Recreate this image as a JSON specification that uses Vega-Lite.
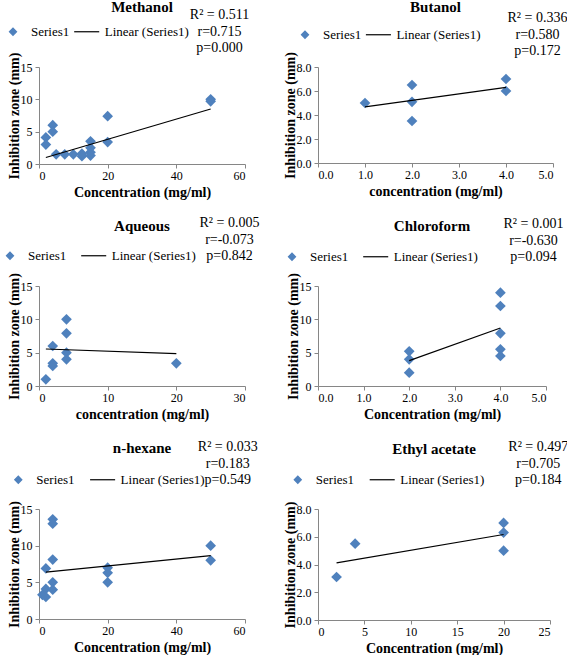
{
  "$schema": "https://vega.github.io/schema/vega-lite/v6.json",
  "background": "white",
  "padding": {"left": 3, "top": 0, "right": 0, "bottom": 0},
  "datasets": {
    "points": [
      {"solvent": "Methanol", "conc": 2, "zone": 4.1},
      {"solvent": "Methanol", "conc": 2, "zone": 3.0},
      {"solvent": "Methanol", "conc": 4, "zone": 6.0},
      {"solvent": "Methanol", "conc": 4, "zone": 5.0},
      {"solvent": "Methanol", "conc": 5, "zone": 1.5},
      {"solvent": "Methanol", "conc": 7.5, "zone": 1.5},
      {"solvent": "Methanol", "conc": 10, "zone": 1.5},
      {"solvent": "Methanol", "conc": 12.5, "zone": 1.2},
      {"solvent": "Methanol", "conc": 12.5, "zone": 1.6},
      {"solvent": "Methanol", "conc": 15, "zone": 3.5},
      {"solvent": "Methanol", "conc": 15, "zone": 2.5},
      {"solvent": "Methanol", "conc": 15, "zone": 1.8},
      {"solvent": "Methanol", "conc": 15, "zone": 1.3},
      {"solvent": "Methanol", "conc": 20, "zone": 7.4},
      {"solvent": "Methanol", "conc": 20, "zone": 3.4},
      {"solvent": "Methanol", "conc": 50, "zone": 10.0},
      {"solvent": "Methanol", "conc": 50, "zone": 9.7},
      {"solvent": "Butanol", "conc": 1, "zone": 5.0},
      {"solvent": "Butanol", "conc": 2, "zone": 6.5},
      {"solvent": "Butanol", "conc": 2, "zone": 5.1},
      {"solvent": "Butanol", "conc": 2, "zone": 3.5},
      {"solvent": "Butanol", "conc": 4, "zone": 7.0},
      {"solvent": "Butanol", "conc": 4, "zone": 6.0},
      {"solvent": "Aqueous", "conc": 1, "zone": 1.0},
      {"solvent": "Aqueous", "conc": 2, "zone": 6.0},
      {"solvent": "Aqueous", "conc": 2, "zone": 3.4},
      {"solvent": "Aqueous", "conc": 2, "zone": 3.0},
      {"solvent": "Aqueous", "conc": 4, "zone": 10.0},
      {"solvent": "Aqueous", "conc": 4, "zone": 7.9},
      {"solvent": "Aqueous", "conc": 4, "zone": 5.0},
      {"solvent": "Aqueous", "conc": 4, "zone": 4.0},
      {"solvent": "Aqueous", "conc": 20, "zone": 3.4},
      {"solvent": "Chloroform", "conc": 2, "zone": 5.2},
      {"solvent": "Chloroform", "conc": 2, "zone": 4.0},
      {"solvent": "Chloroform", "conc": 2, "zone": 2.0},
      {"solvent": "Chloroform", "conc": 4, "zone": 14.0},
      {"solvent": "Chloroform", "conc": 4, "zone": 12.0},
      {"solvent": "Chloroform", "conc": 4, "zone": 7.9},
      {"solvent": "Chloroform", "conc": 4, "zone": 5.5},
      {"solvent": "Chloroform", "conc": 4, "zone": 4.5},
      {"solvent": "n-hexane", "conc": 1, "zone": 3.3},
      {"solvent": "n-hexane", "conc": 2, "zone": 6.9},
      {"solvent": "n-hexane", "conc": 2, "zone": 4.1},
      {"solvent": "n-hexane", "conc": 2, "zone": 3.0},
      {"solvent": "n-hexane", "conc": 4, "zone": 13.6},
      {"solvent": "n-hexane", "conc": 4, "zone": 13.0},
      {"solvent": "n-hexane", "conc": 4, "zone": 8.1},
      {"solvent": "n-hexane", "conc": 4, "zone": 5.0},
      {"solvent": "n-hexane", "conc": 4, "zone": 4.0},
      {"solvent": "n-hexane", "conc": 20, "zone": 7.0},
      {"solvent": "n-hexane", "conc": 20, "zone": 6.3},
      {"solvent": "n-hexane", "conc": 20, "zone": 5.0},
      {"solvent": "n-hexane", "conc": 50, "zone": 10.0},
      {"solvent": "n-hexane", "conc": 50, "zone": 8.0},
      {"solvent": "Ethyl acetate", "conc": 2, "zone": 3.1},
      {"solvent": "Ethyl acetate", "conc": 4, "zone": 5.5},
      {"solvent": "Ethyl acetate", "conc": 20, "zone": 7.0},
      {"solvent": "Ethyl acetate", "conc": 20, "zone": 6.3},
      {"solvent": "Ethyl acetate", "conc": 20, "zone": 5.0}
    ],
    "fits": [
      {"solvent": "Methanol", "conc": 2, "zone": 1.0},
      {"solvent": "Methanol", "conc": 50, "zone": 8.5},
      {"solvent": "Butanol", "conc": 1, "zone": 4.68},
      {"solvent": "Butanol", "conc": 4, "zone": 6.3},
      {"solvent": "Aqueous", "conc": 1, "zone": 5.55},
      {"solvent": "Aqueous", "conc": 20, "zone": 4.85},
      {"solvent": "Chloroform", "conc": 2, "zone": 3.8},
      {"solvent": "Chloroform", "conc": 4, "zone": 8.7},
      {"solvent": "n-hexane", "conc": 2, "zone": 6.4},
      {"solvent": "n-hexane", "conc": 50, "zone": 8.65},
      {"solvent": "Ethyl acetate", "conc": 2, "zone": 4.12},
      {"solvent": "Ethyl acetate", "conc": 20, "zone": 6.16}
    ]
  },
  "columns": 2,
  "spacing": {"row": 20, "column": 22},
  "concat": [
    {
      "width": 206, "height": 97,
      "title": {"text": "Methanol", "dy": -6},
      "layer": [
        {
          "data": {"name": "points"},
          "transform": [{"filter": "datum.solvent === 'Methanol'"}],
          "mark": {"type": "point", "filled": true, "opacity": 1, "size": 115},
          "encoding": {
            "x": {"field": "conc", "type": "quantitative", "title": "Concentration (mg/ml)",
              "scale": {"domain": [0, 60], "nice": false}, "axis": {"values": [0, 20, 40, 60], "tickCount": 20}},
            "y": {"field": "zone", "type": "quantitative", "title": "Inhibition zone (mm)",
              "scale": {"domain": [0, 15], "nice": false}, "axis": {"values": [0, 5, 10, 15], "tickCount": 20}},
            "color": {"datum": "Series1", "type": "nominal",
              "scale": {"domain": ["Series1", "Linear (Series1)"], "range": ["#4F81BD", "#000000"]},
              "legend": {"legendX": -32.5, "legendY": -42, "columnPadding": 1.7, "titlePadding": 31,
                "title": ["R² = 0.511", "r=0.715", "p=0.000"]}},
            "shape": {"datum": "Series1", "type": "nominal",
              "scale": {"domain": ["Series1", "Linear (Series1)"], "range": ["diamond", "M-3.54,0H3.54"]}}
          }
        },
        {
          "data": {"name": "fits"},
          "transform": [{"filter": "datum.solvent === 'Methanol'"}],
          "mark": {"type": "line", "strokeWidth": 1.2},
          "encoding": {
            "x": {"field": "conc", "type": "quantitative"},
            "y": {"field": "zone", "type": "quantitative"},
            "color": {"datum": "Linear (Series1)", "type": "nominal"}
          }
        }
      ]
    },
    {
      "width": 235, "height": 96,
      "title": {"text": "Butanol", "dy": -9},
      "layer": [
        {
          "data": {"name": "points"},
          "transform": [{"filter": "datum.solvent === 'Butanol'"}],
          "mark": {"type": "point", "filled": true, "opacity": 1, "size": 115},
          "encoding": {
            "x": {"field": "conc", "type": "quantitative", "title": "concentration (mg/ml)",
              "scale": {"domain": [0, 5], "nice": false}, "axis": {"values": [0, 1, 2, 3, 4, 5], "tickCount": 20}},
            "y": {"field": "zone", "type": "quantitative", "title": "Inhibition zone (mm)",
              "scale": {"domain": [0, 8], "nice": false}, "axis": {"values": [0, 2, 4, 6, 8], "tickCount": 20}},
            "color": {"datum": "Series1", "type": "nominal",
              "scale": {"domain": ["Series1", "Linear (Series1)"], "range": ["#4F81BD", "#000000"]},
              "legend": {"legendX": -19.5, "legendY": -39, "columnPadding": 1.4, "titlePadding": 57,
                "title": ["R² = 0.336", "r=0.580", "p=0.172"]}},
            "shape": {"datum": "Series1", "type": "nominal",
              "scale": {"domain": ["Series1", "Linear (Series1)"], "range": ["diamond", "M-3.54,0H3.54"]}}
          }
        },
        {
          "data": {"name": "fits"},
          "transform": [{"filter": "datum.solvent === 'Butanol'"}],
          "mark": {"type": "line", "strokeWidth": 1.2},
          "encoding": {
            "x": {"field": "conc", "type": "quantitative"},
            "y": {"field": "zone", "type": "quantitative"},
            "color": {"datum": "Linear (Series1)", "type": "nominal"}
          }
        }
      ]
    },
    {
      "width": 206, "height": 100,
      "title": {"text": "Aqueous", "dy": -11},
      "layer": [
        {
          "data": {"name": "points"},
          "transform": [{"filter": "datum.solvent === 'Aqueous'"}],
          "mark": {"type": "point", "filled": true, "opacity": 1, "size": 115},
          "encoding": {
            "x": {"field": "conc", "type": "quantitative", "title": "concentration (mg/ml)",
              "scale": {"domain": [0, 30], "nice": false}, "axis": {"values": [0, 10, 20, 30], "tickCount": 20}},
            "y": {"field": "zone", "type": "quantitative", "title": "Inhibition zone (mm)",
              "scale": {"domain": [0, 15], "nice": false}, "axis": {"values": [0, 5, 10, 15], "tickCount": 20}},
            "color": {"datum": "Series1", "type": "nominal",
              "scale": {"domain": ["Series1", "Linear (Series1)"], "range": ["#4F81BD", "#000000"]},
              "legend": {"legendX": -35.5, "legendY": -37, "columnPadding": 11.7, "titlePadding": 34,
                "title": ["R² = 0.005", "r=-0.073", "p=0.842", "", ""]}},
            "shape": {"datum": "Series1", "type": "nominal",
              "scale": {"domain": ["Series1", "Linear (Series1)"], "range": ["diamond", "M-3.54,0H3.54"]}}
          }
        },
        {
          "data": {"name": "fits"},
          "transform": [{"filter": "datum.solvent === 'Aqueous'"}],
          "mark": {"type": "line", "strokeWidth": 1.2},
          "encoding": {
            "x": {"field": "conc", "type": "quantitative"},
            "y": {"field": "zone", "type": "quantitative"},
            "color": {"datum": "Linear (Series1)", "type": "nominal"}
          }
        }
      ]
    },
    {
      "width": 228, "height": 100,
      "title": {"text": "Chloroform", "dy": -12},
      "layer": [
        {
          "data": {"name": "points"},
          "transform": [{"filter": "datum.solvent === 'Chloroform'"}],
          "mark": {"type": "point", "filled": true, "opacity": 1, "size": 115},
          "encoding": {
            "x": {"field": "conc", "type": "quantitative", "title": "Concentration (mg/ml)",
              "scale": {"domain": [0, 5], "nice": false}, "axis": {"values": [0, 1, 2, 3, 4, 5], "tickCount": 20}},
            "y": {"field": "zone", "type": "quantitative", "title": "Inhibition zone (mm)",
              "scale": {"domain": [0, 15], "nice": false}, "axis": {"values": [0, 5, 10, 15], "tickCount": 20}},
            "color": {"datum": "Series1", "type": "nominal",
              "scale": {"domain": ["Series1", "Linear (Series1)"], "range": ["#4F81BD", "#000000"]},
              "legend": {"legendX": -32.5, "legendY": -36, "columnPadding": 11.7, "titlePadding": 56,
                "title": ["R² = 0.001", "r=-0.630", "p=0.094", "", ""]}},
            "shape": {"datum": "Series1", "type": "nominal",
              "scale": {"domain": ["Series1", "Linear (Series1)"], "range": ["diamond", "M-3.54,0H3.54"]}}
          }
        },
        {
          "data": {"name": "fits"},
          "transform": [{"filter": "datum.solvent === 'Chloroform'"}],
          "mark": {"type": "line", "strokeWidth": 1.2},
          "encoding": {
            "x": {"field": "conc", "type": "quantitative"},
            "y": {"field": "zone", "type": "quantitative"},
            "color": {"datum": "Linear (Series1)", "type": "nominal"}
          }
        }
      ]
    },
    {
      "width": 206, "height": 110,
      "title": {"text": "n-hexane", "dy": -13},
      "layer": [
        {
          "data": {"name": "points"},
          "transform": [{"filter": "datum.solvent === 'n-hexane'"}],
          "mark": {"type": "point", "filled": true, "opacity": 1, "size": 115},
          "encoding": {
            "x": {"field": "conc", "type": "quantitative", "title": "Concentration (mg/ml)",
              "scale": {"domain": [0, 60], "nice": false}, "axis": {"values": [0, 20, 40, 60], "tickCount": 20}},
            "y": {"field": "zone", "type": "quantitative", "title": "Inhibition zone (mm)",
              "scale": {"domain": [0, 15], "nice": false}, "axis": {"values": [0, 5, 10, 15], "tickCount": 20}},
            "color": {"datum": "Series1", "type": "nominal",
              "scale": {"domain": ["Series1", "Linear (Series1)"], "range": ["#4F81BD", "#000000"]},
              "legend": {"legendX": -27.2, "legendY": -36, "columnPadding": 12.3, "titlePadding": 23,
                "title": ["R² = 0.033", "r=0.183", "p=0.549", "", ""]}},
            "shape": {"datum": "Series1", "type": "nominal",
              "scale": {"domain": ["Series1", "Linear (Series1)"], "range": ["diamond", "M-3.54,0H3.54"]}}
          }
        },
        {
          "data": {"name": "fits"},
          "transform": [{"filter": "datum.solvent === 'n-hexane'"}],
          "mark": {"type": "line", "strokeWidth": 1.2},
          "encoding": {
            "x": {"field": "conc", "type": "quantitative"},
            "y": {"field": "zone", "type": "quantitative"},
            "color": {"datum": "Linear (Series1)", "type": "nominal"}
          }
        }
      ]
    },
    {
      "width": 232, "height": 111,
      "title": {"text": "Ethyl acetate", "dy": -12},
      "layer": [
        {
          "data": {"name": "points"},
          "transform": [{"filter": "datum.solvent === 'Ethyl acetate'"}],
          "mark": {"type": "point", "filled": true, "opacity": 1, "size": 115},
          "encoding": {
            "x": {"field": "conc", "type": "quantitative", "title": "Concentration (mg/ml)",
              "scale": {"domain": [0, 25], "nice": false}, "axis": {"values": [0, 5, 10, 15, 20, 25], "tickCount": 20}},
            "y": {"field": "zone", "type": "quantitative", "title": "Inhibition zone (mm)",
              "scale": {"domain": [0, 8], "nice": false}, "axis": {"values": [0, 2, 4, 6, 8], "tickCount": 20}},
            "color": {"datum": "Series1", "type": "nominal",
              "scale": {"domain": ["Series1", "Linear (Series1)"], "range": ["#4F81BD", "#000000"]},
              "legend": {"legendX": -26.7, "legendY": -36, "columnPadding": 12.4, "titlePadding": 54,
                "title": ["R² = 0.497", "r=0.705", "p=0.184", "", ""]}},
            "shape": {"datum": "Series1", "type": "nominal",
              "scale": {"domain": ["Series1", "Linear (Series1)"], "range": ["diamond", "M-3.54,0H3.54"]}}
          }
        },
        {
          "data": {"name": "fits"},
          "transform": [{"filter": "datum.solvent === 'Ethyl acetate'"}],
          "mark": {"type": "line", "strokeWidth": 1.2},
          "encoding": {
            "x": {"field": "conc", "type": "quantitative"},
            "y": {"field": "zone", "type": "quantitative"},
            "color": {"datum": "Linear (Series1)", "type": "nominal"}
          }
        }
      ]
    }
  ],
  "resolve": {
    "scale": {"color": "independent", "shape": "independent"},
    "legend": {"color": "independent", "shape": "independent"}
  },
  "config": {
    "font": "Liberation Serif",
    "view": {"stroke": null},
    "axis": {
      "grid": false,
      "domainColor": "#868686",
      "tickColor": "#868686",
      "tickSize": 4,
      "labelOverlap": false,
      "labelFont": "Liberation Serif",
      "labelFontSize": 12,
      "labelColor": "#000000",
      "titleFont": "Liberation Serif",
      "titleFontSize": 14,
      "titleFontWeight": "bold",
      "titleColor": "#000000"
    },
    "axisX": {"titlePadding": 4},
    "axisY": {"titlePadding": -1, "labelPadding": 3},
    "title": {
      "font": "Liberation Serif",
      "fontSize": 15,
      "fontWeight": "bold",
      "color": "#000000",
      "anchor": "middle",
      "frame": "group"
    },
    "legend": {
      "orient": "none",
      "direction": "horizontal",
      "padding": 0,
      "labelFont": "Liberation Serif",
      "labelFontSize": 13,
      "labelColor": "#000000",
      "labelOffset": 11.5,
      "labelLimit": 300,
      "symbolSize": 50,
      "symbolStrokeWidth": 1.2,
      "titleFont": "Liberation Serif",
      "titleFontSize": 14,
      "titleFontWeight": "normal",
      "titleColor": "#000000",
      "titleOrient": "right",
      "titleAlign": "center",
      "titleLineHeight": 16.5,
      "titleLimit": 300
    }
  }
}
